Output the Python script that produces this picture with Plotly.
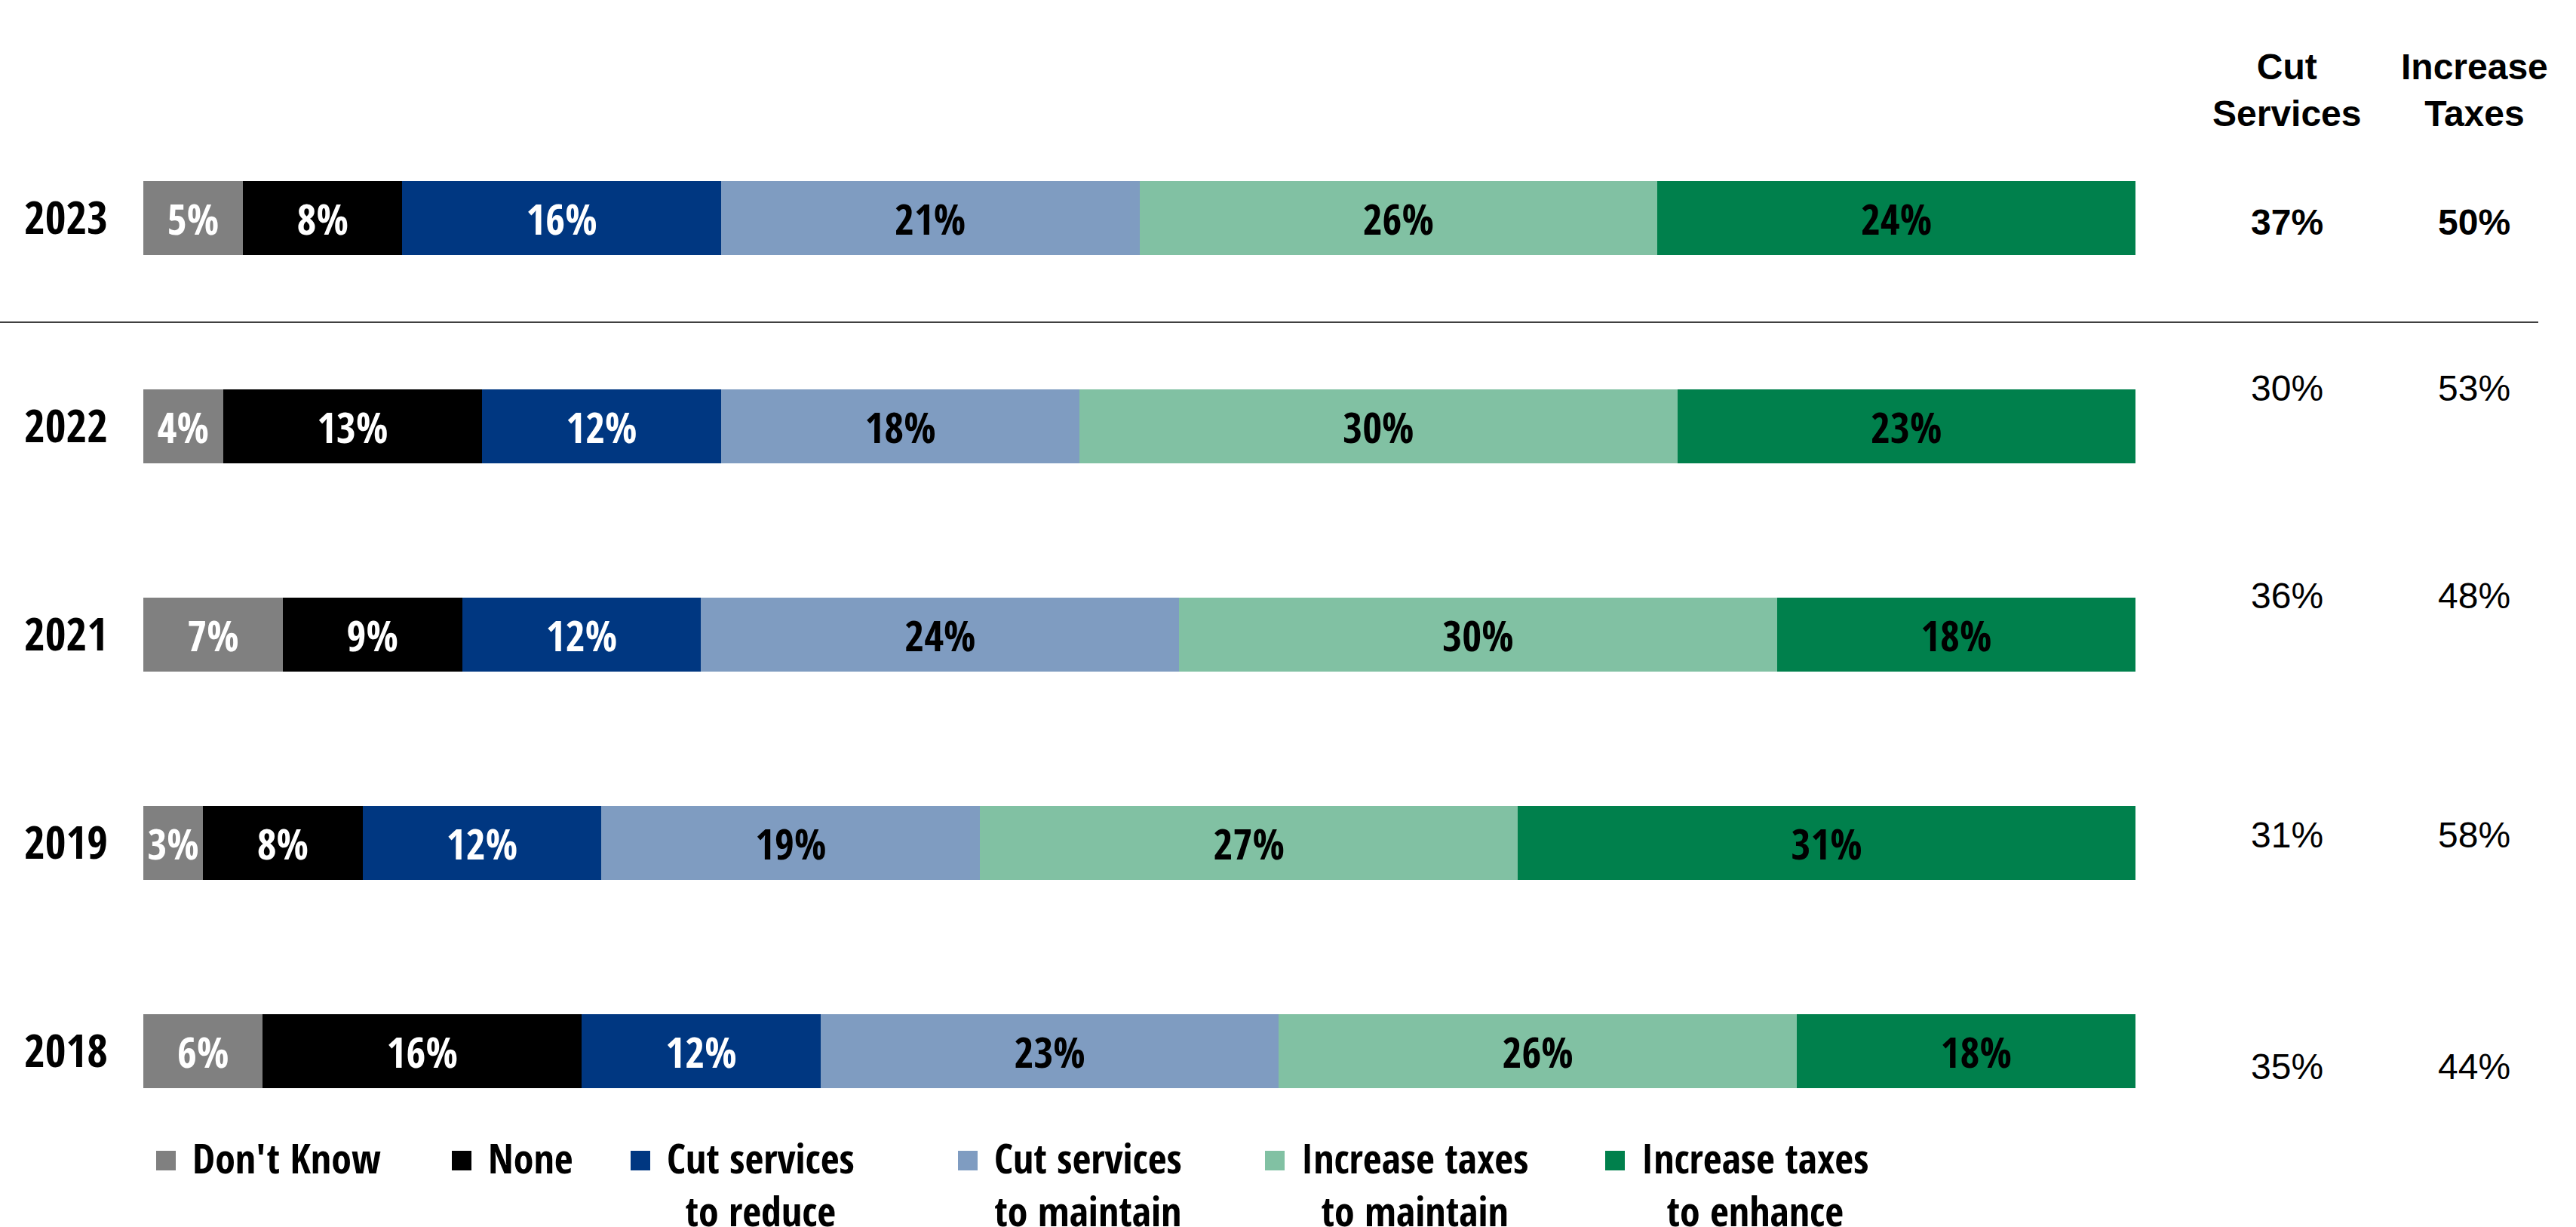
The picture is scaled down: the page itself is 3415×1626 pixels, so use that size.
import plotly.graph_objects as go

# ---- data -------------------------------------------------------------
years = ["2023", "2022", "2021", "2019", "2018"]
series_names = [
    "Don't Know",
    "None",
    "Cut services<br>to reduce",
    "Cut services<br>to maintain",
    "Increase taxes<br>to maintain",
    "Increase taxes<br>to enhance",
]
dont_know = [5, 4, 7, 3, 6]
none = [8, 13, 9, 8, 16]
cut_reduce = [16, 12, 12, 12, 12]
cut_maintain = [21, 18, 24, 19, 23]
tax_maintain = [26, 30, 30, 27, 26]
tax_enhance = [24, 23, 18, 31, 18]
cut_services_total = [37, 30, 36, 31, 35]
increase_taxes_total = [50, 53, 48, 58, 44]

# ---- styling ----------------------------------------------------------
colors = ["#808080", "#000000", "#003781", "#7F9CC1", "#81C1A3", "#00804C"]
label_colors = ["white", "white", "white", "black", "black", "black"]
BAR_FONT = "Open Sans Condensed, Roboto Condensed, sans-serif"
SIDE_FONT = "Liberation Sans, Arial, sans-serif"

W, H = 3415, 1626
L, R, T, B = 190, 2831, 151, 1531  # plot area in pixels


def px_x(p):
    return (p - L) / (R - L)


def px_y(p):
    return (B - p) / (B - T)


values = [dont_know, none, cut_reduce, cut_maintain, tax_maintain, tax_enhance]
cat_order = years[::-1]  # bottom to top

fig = go.Figure()
for name, vals, col, tcol in zip(series_names, values, colors, label_colors):
    fig.add_trace(go.Bar(
        x=vals, y=years, orientation="h", name=name,
        marker=dict(color=col, line=dict(width=0)),
        text=[f"{v}%" for v in vals],
        textposition="inside", insidetextanchor="middle", textangle=0,
        constraintext="none",
        textfont=dict(family=BAR_FONT, size=56, color=tcol, weight="bold"),
        showlegend=False,
        hoverinfo="skip",
    ))

annotations = []

# column headers on the right
col_x = [3032, 3280]
headers = ["Cut<br>Services", "Increase<br>Taxes"]
for cx, htxt in zip(col_x, headers):
    annotations.append(dict(
        x=px_x(cx), y=px_y(120), xref="paper", yref="paper",
        text=f"<b>{htxt}</b>", showarrow=False, xanchor="center", yanchor="middle",
        align="center", font=dict(family=SIDE_FONT, size=48, color="black"),
    ))

# column values beside each bar
row_shift = [-5, 51, 52, 11, -20]
for i, yr in enumerate(years):
    for cx, col_vals in zip(col_x, [cut_services_total, increase_taxes_total]):
        txt = f"{col_vals[i]}%"
        if yr == "2023":
            txt = f"<b>{txt}</b>"
        annotations.append(dict(
            x=px_x(cx), y=cat_order.index(yr), xref="paper", yref="y",
            yshift=row_shift[i],
            text=txt, showarrow=False, xanchor="center", yanchor="middle",
            font=dict(family=SIDE_FONT, size=48, color="black"),
        ))

# legend drawn below the bars
shapes = []
legend_left = [207, 599, 836, 1270, 1677, 2128]
sq = 26
leg_y = 1538
for lx, name, col in zip(legend_left, series_names, colors):
    shapes.append(dict(
        type="rect", xref="paper", yref="paper",
        x0=px_x(lx), x1=px_x(lx + sq), y0=px_y(leg_y + sq / 2), y1=px_y(leg_y - sq / 2),
        fillcolor=col, line=dict(width=0),
    ))
    annotations.append(dict(
        x=px_x(lx + sq + 20), y=px_y(leg_y - 43), xref="paper", yref="paper",
        text=f"<b>{name}</b>", showarrow=False, xanchor="left", yanchor="top",
        align="center", font=dict(family=BAR_FONT, size=54, color="black"),
    ))

# separator under the current year
shapes.append(dict(
    type="line", xref="paper", yref="y",
    x0=px_x(0), x1=px_x(3365), y0=3.5, y1=3.5,
    line=dict(color="#404040", width=2),
))

fig.update_layout(
    width=W, height=H,
    barmode="stack", bargap=0.645,
    margin=dict(l=L, r=W - R, t=T, b=H - B),
    paper_bgcolor="white", plot_bgcolor="white",
    xaxis=dict(visible=False, range=[0, 100], fixedrange=True),
    yaxis=dict(
        type="category", categoryorder="array", categoryarray=cat_order,
        range=[-0.5, 4.5], autorange=False,
        showgrid=False, zeroline=False, showline=False, ticks="",
        ticklabelstandoff=46,
        tickfont=dict(family=BAR_FONT, size=60, color="black", weight="bold"),
    ),
    shapes=shapes,
    annotations=annotations,
)

fig.write_html("out.html", config={"displayModeBar": False})
